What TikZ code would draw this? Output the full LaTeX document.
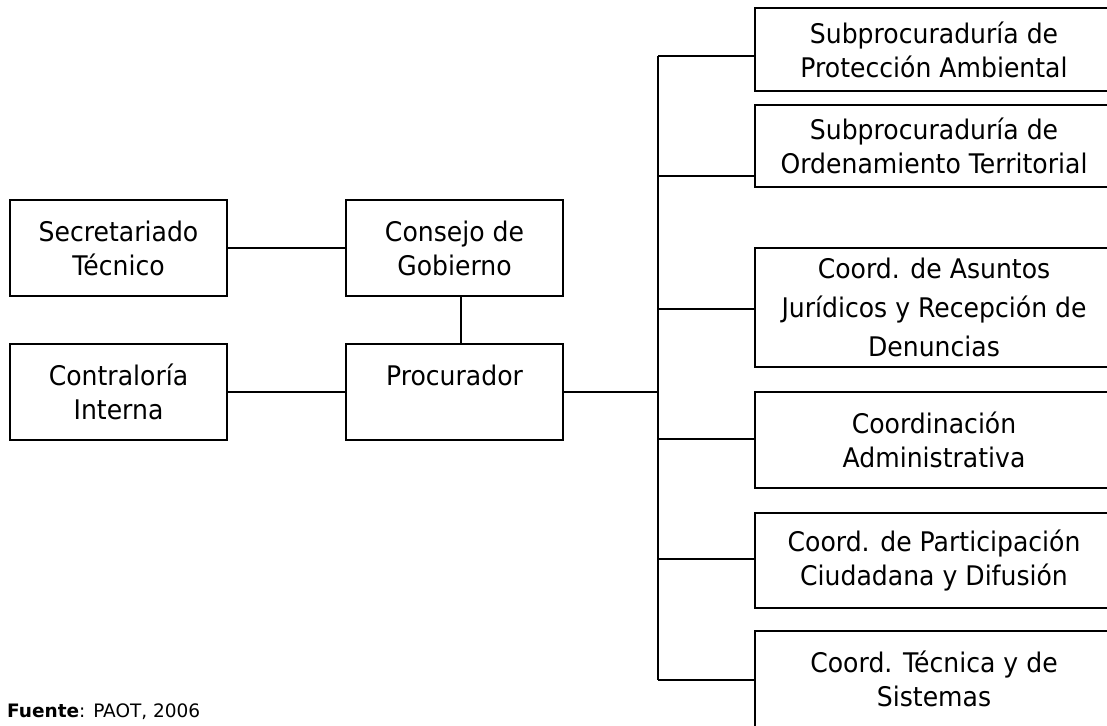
\documentclass[tikz,border=0pt]{standalone}
\usepackage{fontspec}
\setmainfont{DejaVu Sans}[FakeStretch=0.93]
\newfontfamily\srcfont{DejaVu Sans}
\tikzset{
  unit/.style={draw, line width=1.6pt, align=center, inner sep=0pt,
    minimum width=217pt, minimum height=96pt,
    font=\fontsize{27}{34}\selectfont},
  office/.style={unit, minimum width=358pt},
  link/.style={line width=1.6pt}
}
\begin{document}
\begin{tikzpicture}[x=1pt,y=-1pt]
\useasboundingbox (0,0) rectangle (1107,725);
\clip (0,0) rectangle (1107,725);

\node[unit] (sec) at (118.5,248) {Secretariado\\T\'ecnico};
\node[unit] (cons) at (454.5,248) {Consejo de\\Gobierno};
\node[unit] (cont) at (118.5,392) {Contralor\'ia\\Interna};
\node[unit] (proc) at (454.5,392) {Procurador\\~};

\node[office, minimum height=83pt] (sub1) at (934,49.5) {Subprocuradur\'ia de\\Protecci\'on Ambiental};
\node[office, minimum height=82pt] (sub2) at (934,146) {Subprocuradur\'ia de\\Ordenamiento Territorial};
\node[office, minimum height=119pt, font=\fontsize{27}{39}\selectfont] (coo1) at (934,307.5) {Coord. de Asuntos\\Jur\'idicos y Recepci\'on de\\Denuncias};
\node[office] (coo2) at (934,440) {Coordinaci\'on\\Administrativa};
\node[office, minimum height=95pt] (coo3) at (934,560.5) {Coord. de Participaci\'on\\Ciudadana y Difusi\'on};
\node[office] (coo4) at (934,679) {Coord. T\'ecnica y de\\Sistemas};

\coordinate (t1) at (658,56);
\coordinate (t2) at (658,176);
\coordinate (t3) at (658,309);
\coordinate (t4) at (658,439);
\coordinate (t5) at (658,559);
\coordinate (t6) at (658,680);

\draw[link] (sec) -- (cons);
\draw[link] (cont) -- (proc);
\draw[link] ([xshift=6.5pt]cons.south) -- ([xshift=6.5pt]proc.north);
\draw[link] (proc) -- (proc -| t1);
\draw[link] (t1) -- (t6);
\draw[link] (t1) -- (t1 -| sub1.west);
\draw[link] (t2) -- (t2 -| sub2.west);
\draw[link] (t3) -- (t3 -| coo1.west);
\draw[link] (t4) -- (t4 -| coo2.west);
\draw[link] (t5) -- (t5 -| coo3.west);
\draw[link] (t6) -- (t6 -| coo4.west);

\node[anchor=base west, inner sep=0pt, font=\srcfont\fontsize{18.5}{21}\selectfont] (src) at (7,717) {\textbf{Fuente}: PAOT, 2006};

\end{tikzpicture}
\end{document}
